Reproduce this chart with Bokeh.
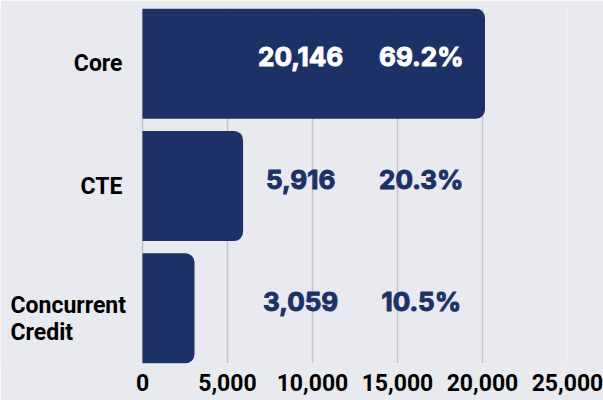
from bokeh.plotting import figure
from bokeh.models import ColumnDataSource, Range1d, FixedTicker, NumeralTickFormatter
from bokeh.core.properties import value
from bokeh.embed import file_html
from bokeh.resources import INLINE

categories = ["Core", "CTE", "Concurrent\nCredit"]
counts = [20146, 5916, 3059]
shares = ["69.2%", "20.3%", "10.5%"]
x_ticks = [0, 5000, 10000, 15000, 20000, 25000]

NAVY = "#1c3166"
BG = "#e9eaf0"
COND = "Roboto, sans-serif"
NUMF = "Inter, sans-serif"
X_MAX = 25000
PX_PER_UNIT = 425 / X_MAX          # 5,000 units = 85 px
LEFT_PX = 142                      # room for category labels inside the frame

pos = list(range(len(categories)))
src = ColumnDataSource(dict(
    y=pos,
    count=counts,
    count_txt=[f"{c:,}" for c in counts],
    share=shares,
    col=["white" if c > 17500 else NAVY for c in counts],
    xn=[9300] * len(counts),
    xp=[16400] * len(counts),
))
single = [(i, c) for i, c in zip(pos, categories) if "\n" not in c]
multi = [(i, c) for i, c in zip(pos, categories) if "\n" in c]
src_s = ColumnDataSource(dict(y=[i for i, _ in single], t=[c for _, c in single], x=[0] * len(single)))
src_m = ColumnDataSource(dict(y=[i for i, _ in multi], t=[c for _, c in multi], x=[0] * len(multi)))

p = figure(width=603, height=400, output_backend="svg", toolbar_location=None,
           x_range=Range1d(-LEFT_PX / PX_PER_UNIT, X_MAX), y_range=Range1d(2.45, -0.45),
           y_axis_location=None,
           min_border_left=0, min_border_right=36, min_border_top=8, min_border_bottom=37)
p.background_fill_color = BG
p.border_fill_color = BG
p.outline_line_color = None

p.hbar(y="y", left=0, right="count", height=0.9, source=src,
       fill_color=NAVY, line_color=None, border_radius=(0, 9, 9, 0))

for field, xf in (("count_txt", "xn"), ("share", "xp")):
    p.text(x=xf, y="y", text=field, source=src, text_color="col",
           text_outline_color="col",
           text_align="center", text_baseline="middle", y_offset=-7,
           text_font=value(NUMF), text_font_style="bold", text_font_size="26px")

# category labels
p.text(x="x", y="y", text="t", source=src_s, x_offset=-20,
       text_align="right", text_baseline="middle", text_color="black",
       text_font=value(COND), text_font_style="bold", text_font_size="23px")
p.text(x="x", y="y", text="t", source=src_m, x_offset=-132, y_offset=11,
       text_align="left", text_baseline="middle", text_color="black",
       text_line_height=1.0,
       text_font=value(COND), text_font_style="bold", text_font_size="23px")

p.xgrid.ticker = FixedTicker(ticks=x_ticks)
p.xgrid.grid_line_color = "#c4c5cc"
p.xgrid.grid_line_width = 1.5
p.ygrid.grid_line_color = None

xa = p.xaxis[0]
xa.ticker = FixedTicker(ticks=x_ticks)
xa.formatter = NumeralTickFormatter(format="0,0")
xa.axis_line_color = None
xa.major_tick_line_color = None
xa.minor_tick_line_color = None
xa.major_tick_out = 0
xa.major_label_standoff = 10
xa.major_label_text_font = COND
xa.major_label_text_font_style = "bold"
xa.major_label_text_font_size = "23px"
xa.major_label_text_color = "black"

open("out.html", "w").write(file_html(p, INLINE))
